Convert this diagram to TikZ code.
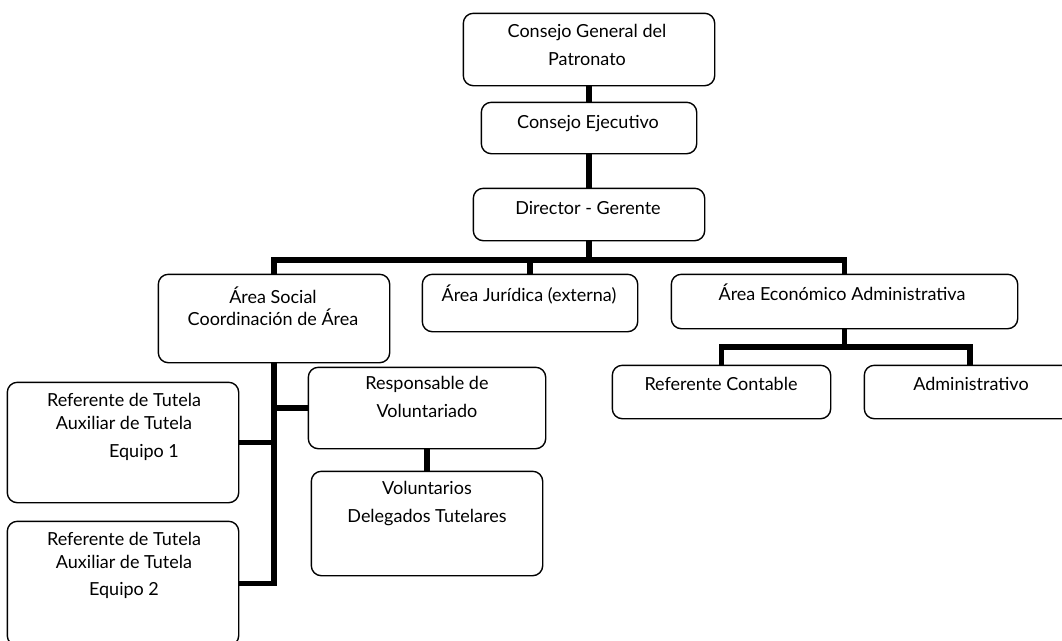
\documentclass[tikz,border=0pt]{standalone}
\usepackage{fontspec}
\setmainfont{Lato}
\begin{document}
\begin{tikzpicture}[x=1pt,y=-1pt,
  box/.style={draw=black, line width=1.4pt, rounded corners=10pt, fill=white,
    rectangle, inner sep=0pt},
  txt/.style={anchor=base, inner sep=0pt, font=\fontsize{18}{21}\selectfont},
  conn/.style={draw=black, line width=5.2pt, line join=miter, line cap=rect}]
\useasboundingbox (0,0) rectangle (1062,640);
% bus coordinates
\coordinate (busL) at (274,260);
\coordinate (busR) at (844.5,260);
\coordinate (subL) at (721.5,347);
\coordinate (subR) at (970,347);
% boxes
\path
  node[box, minimum width=250pt, minimum height=71pt] (cg) at (589,49.5) {}
  node[box, minimum width=214pt, minimum height=50pt] (ce) at (589,128) {}
  node[box, minimum width=230pt, minimum height=51pt] (dg) at (589,214.5) {}
  node[box, minimum width=230pt, minimum height=87pt] (as) at (274,318.5) {}
  node[box, minimum width=214pt, minimum height=56pt] (aj) at (530,303) {}
  node[box, minimum width=345pt, minimum height=53pt] (ae) at (844.5,301.5) {}
  node[box, minimum width=217pt, minimum height=52pt] (rc) at (721.5,392) {}
  node[box, minimum width=210pt, minimum height=52pt] (ad) at (970,392) {}
  node[box, minimum width=230pt, minimum height=119pt] (e1) at (123,442.5) {}
  node[box, minimum width=230pt, minimum height=123pt] (e2) at (123,583.5) {}
  node[box, minimum width=236pt, minimum height=80pt] (rv) at (427,408) {}
  node[box, minimum width=230pt, minimum height=103pt] (vd) at (427,523.5) {};
% connectors
\draw[conn] (cg.south) -- (ce.north);
\draw[conn] (ce.south) -- (dg.north);
\draw[conn] (dg.south) -- (dg.south |- busL);
\draw[conn] (as.north) -- (busL) -- (busR) -- (ae.north);
\draw[conn] (aj.north) -- (aj.north |- busL);
\draw[conn] (ae.south) -- (ae.south |- subL);
\draw[conn] (rc.north) -- (subL) -- (subR) -- (ad.north);
\draw[conn] (as.south) -- (as.south |- e2.east) -- (e2.east);
\draw[conn] (e1.east) -- (e1.east -| as.south);
\draw[conn] (rv.west) -- (rv.west -| as.south);
\draw[conn] (rv.south) -- (vd.north);
% redraw box borders over connector ends
\foreach \n in {cg,ce,dg,as,aj,ae,rc,ad,e1,e2,rv,vd}{
  \draw[line width=1.4pt, rounded corners=10pt, fill=white] (\n.south west) rectangle (\n.north east);
}
% texts
\node[txt] (cg1) at (587,37) {Consejo General del};
\node[txt] (cg2) at (587,65) {Patronato};
\node[txt] (ce1) at (588,128) {Consejo Ejecutivo};
\node[txt] (dg1) at (588,214) {Director - Gerente};
\node[txt] (as1) at (273,303) {Área Social};
\node[txt] (as2) at (273,325) {Coordinación de Área};
\node[txt] (aj1) at (529,301) {Área Jurídica (externa)};
\node[txt] (ae1) at (842,300) {Área Económico Administrativa};
\node[txt] (rc1) at (721,390) {Referente Contable};
\node[txt] (ad1) at (971,390) {Administrativo};
\node[txt] (e11) at (124,406) {Referente de Tutela};
\node[txt] (e12) at (124,429) {Auxiliar de Tutela};
\node[txt] (e13) at (144,457) {Equipo 1};
\node[txt] (e21) at (124,545) {Referente de Tutela};
\node[txt] (e22) at (124,568) {Auxiliar de Tutela};
\node[txt] (e23) at (124,595) {Equipo 2};
\node[txt] (rv1) at (427,389) {Responsable de};
\node[txt] (rv2) at (427,417) {Voluntariado};
\node[txt] (vd1) at (427,494) {Voluntarios};
\node[txt] (vd2) at (427,522) {Delegados Tutelares};
\end{tikzpicture}
\end{document}
